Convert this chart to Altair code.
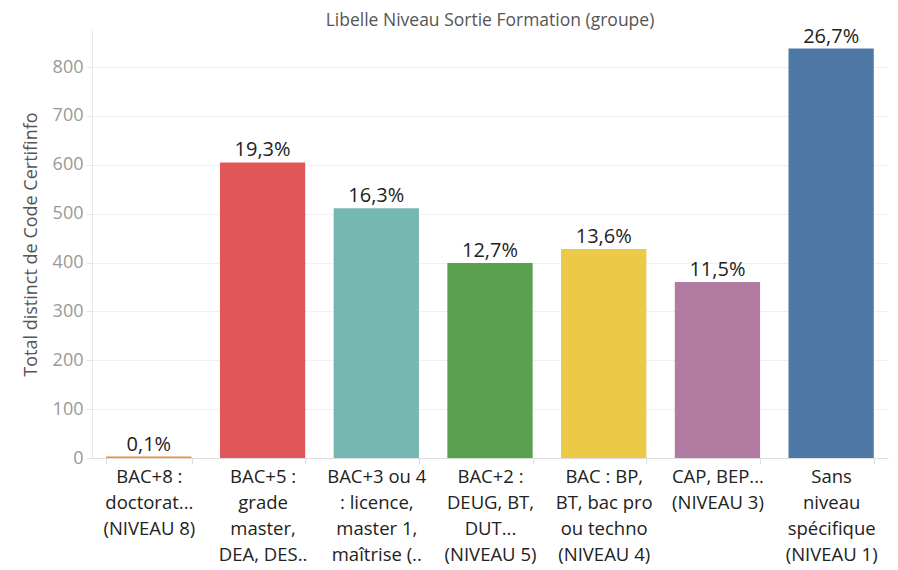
import altair as alt
import pandas as pd

categories = [
    "BAC+8 :\ndoctorat...\n(NIVEAU 8)",
    "BAC+5 :\ngrade\nmaster,\nDEA, DES..",
    "BAC+3 ou 4\n: licence,\nmaster 1,\nmaîtrise (..",
    "BAC+2 :\nDEUG, BT,\nDUT...\n(NIVEAU 5)",
    "BAC : BP,\nBT, bac pro\nou techno\n(NIVEAU 4)",
    "CAP, BEP...\n(NIVEAU 3)",
    "Sans\nniveau\nspécifique\n(NIVEAU 1)",
]
values = [3, 605, 511, 399, 428, 360, 838]
pct_labels = ["0,1%", "19,3%", "16,3%", "12,7%", "13,6%", "11,5%", "26,7%"]
colors = ["#F28E2B", "#E15759", "#76B7B2", "#59A14F", "#EDC948", "#B07AA1", "#4E79A7"]

df = pd.DataFrame({"cat": categories, "val": values, "pct": pct_labels})

FONT = "Open Sans"

x = alt.X(
    "cat:N",
    sort=categories,
    title=None,
    scale=alt.Scale(paddingInner=0.25, paddingOuter=0.125),
    axis=alt.Axis(
        labelExpr="split(datum.label, '\\n')",
        labelAngle=0,
        labelFont=FONT,
        labelFontSize=18.5,
        labelLineHeight=26,
        labelColor="#222222",
        labelPadding=3,
        labelBaseline="top",
        labelLimit=200,
        tickBand="extent",
        tickColor="#dddddd",
        tickSize=6,
        domainColor="#dddddd",
        grid=False,
    ),
)

y = alt.Y(
    "val:Q",
    title="Total distinct de Code Certifinfo",
    scale=alt.Scale(domain=[0, 876], nice=False),
    axis=alt.Axis(
        values=[0, 100, 200, 300, 400, 500, 600, 700, 800],
        labelFont=FONT,
        labelFontSize=18,
        labelColor="#999999",
        labelPadding=3,
        titleFont=FONT,
        titleFontSize=18,
        titleFontWeight="normal",
        titleColor="#555555",
        titlePadding=12,
        tickColor="#e6e6e6",
        tickSize=6,
        domainColor="#e6e6e6",
        gridColor="#f0f0f0",
    ),
)

bars = alt.Chart(df).mark_bar().encode(
    x=x,
    y=y,
    color=alt.Color("cat:N", sort=categories, scale=alt.Scale(domain=categories, range=colors), legend=None),
)

text = alt.Chart(df).mark_text(
    baseline="bottom", dy=-2, font=FONT, fontSize=20, color="#222222"
).encode(
    x=alt.X("cat:N", sort=categories),
    y=alt.Y("val:Q"),
    text="pct:N",
)

chart = (
    alt.layer(bars, text)
    .properties(
        width=796,
        height=428,
        autosize=alt.AutoSizeParams(type="none"),
        padding={"left": 84, "top": 22, "right": 2, "bottom": 112},
        title=alt.TitleParams(
            "Libelle Niveau Sortie Formation (groupe)",
            font=FONT,
            fontSize=17.5,
            fontWeight="normal",
            color="#555555",
            anchor="middle",
            offset=0,
            dy=3,
        ),
    )
    .configure_view(stroke=None)
)

chart.save("out.html", embed_options={"renderer": "svg", "actions": False})
